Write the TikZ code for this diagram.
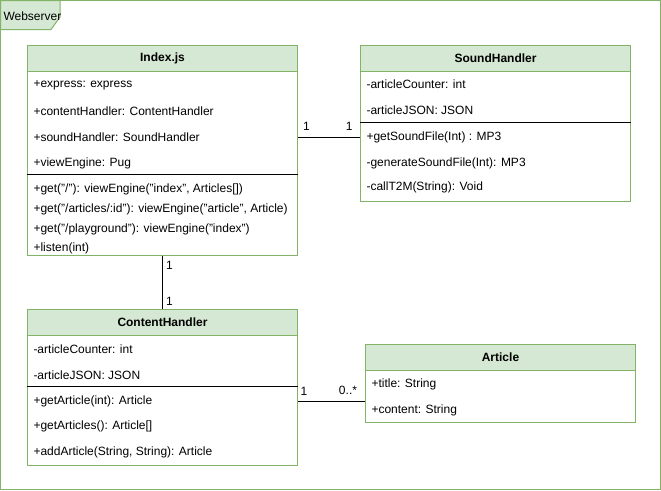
\documentclass[tikz,border=0pt]{standalone}
\usepackage{fontspec}
\setmainfont{Liberation Sans}
\definecolor{umlgreen}{HTML}{82B366}
\definecolor{umlfill}{HTML}{D5E8D4}

\begin{document}
\begin{tikzpicture}[x=1pt,y=-1pt,line width=1pt,
  font=\fontsize{12}{14}\selectfont,
  classbox/.style={draw=umlgreen,fill=white,inner sep=0pt,minimum width=270pt},
  headbox/.style={draw=umlgreen,fill=umlfill,inner sep=0pt,minimum width=270pt,
    minimum height=26pt,font=\fontsize{12}{14}\selectfont\bfseries},
  member/.style={anchor=west,inner sep=0pt},
  mult/.style={inner sep=0pt}]
  \useasboundingbox (0,0) rectangle (661,490);
  % frame
  \draw[umlgreen] (0.5,0.5) rectangle (660,489);
  \draw[umlgreen,fill=umlfill] (0.5,0.5) -- (60,0.5) -- (60,17) -- (51,29.5) -- (0.5,29.5) -- cycle;
  \node[member] (web) at (3,16) {Webserver};

  % Index.js
  \node[classbox,minimum height=210pt] (index) at (162.5,150.5) {};
  \node[headbox] (indexh) at (162.5,58.5) {Index.js};
  \node[member] (iexp) at (33,85) {+express: express};
  \node[member] (icon) at (33,111) {+contentHandler: ContentHandler};
  \node[member] (isnd) at (33,137) {+soundHandler: SoundHandler};
  \node[member] (iview) at (33,163) {+viewEngine: Pug};
  \coordinate (isep) at (0,174);
  \draw (index.west |- isep) -- (index.east |- isep);
  \node[member] (iget1) at (33,189) {+get("/"): viewEngine("index", Articles[])};
  \node[member] (iget2) at (33,209) {+get("/articles/:id"): viewEngine("article", Article)};
  \node[member] (iget3) at (33,229) {+get("/playground"): viewEngine("index")};
  \node[member] (ilis) at (33,248) {+listen(int)};

  % SoundHandler
  \node[classbox,minimum height=156pt] (sound) at (495.5,123.5) {};
  \node[headbox] (soundh) at (495.5,58.5) {SoundHandler};
  \node[member] (scnt) at (366,84.3) {-articleCounter: int};
  \node[member] (sjson) at (366,110.7) {-articleJSON: JSON};
  \coordinate (ssep) at (0,122.7);
  \draw (sound.west |- ssep) -- (sound.east |- ssep);
  \node[member] (sget) at (366,137.3) {+getSoundFile(Int) : MP3};
  \node[member] (sgen) at (366,163) {-generateSoundFile(Int): MP3};
  \node[member] (scall) at (366,187.7) {-callT2M(String): Void};

  % ContentHandler
  \node[classbox,minimum height=156pt] (content) at (162.5,387.5) {};
  \node[headbox] (contenth) at (162.5,322.5) {ContentHandler};
  \node[member] (ccnt) at (33,349) {-articleCounter: int};
  \node[member] (cjson) at (33,375) {-articleJSON: JSON};
  \coordinate (csep) at (0,386.7);
  \draw (content.west |- csep) -- (content.east |- csep);
  \node[member] (cget) at (33,401) {+getArticle(int): Article};
  \node[member] (cgets) at (33,426.7) {+getArticles(): Article[]};
  \node[member] (cadd) at (33,452.3) {+addArticle(String, String): Article};

  % Article
  \node[classbox,minimum height=78pt] (article) at (500.5,383.5) {};
  \node[headbox] (articleh) at (500.5,357.5) {Article};
  \node[member] (atitle) at (371,384) {+title: String};
  \node[member] (acont) at (371,410) {+content: String};

  % associations
  \draw (index.east |- isnd) -- (sound.west |- isnd)
    node[mult,pos=0,anchor=south west,xshift=4.5pt,yshift=6.5pt] {1}
    node[mult,pos=1,anchor=south east,xshift=-7pt,yshift=6.5pt] {1};
  \draw (index) -- (content)
    node[mult,pos=0,anchor=north west,xshift=3pt,yshift=-5pt] {1}
    node[mult,pos=1,anchor=south west,xshift=3pt,yshift=3.5pt] {1};
  \draw (content.east |- cget) -- (article.west |- cget)
    node[mult,pos=0,anchor=south west,xshift=2pt,yshift=5.5pt] {1}
    node[mult,pos=1,anchor=south east,xshift=-7.5pt,yshift=5.5pt] {0..*};
\end{tikzpicture}
\end{document}
